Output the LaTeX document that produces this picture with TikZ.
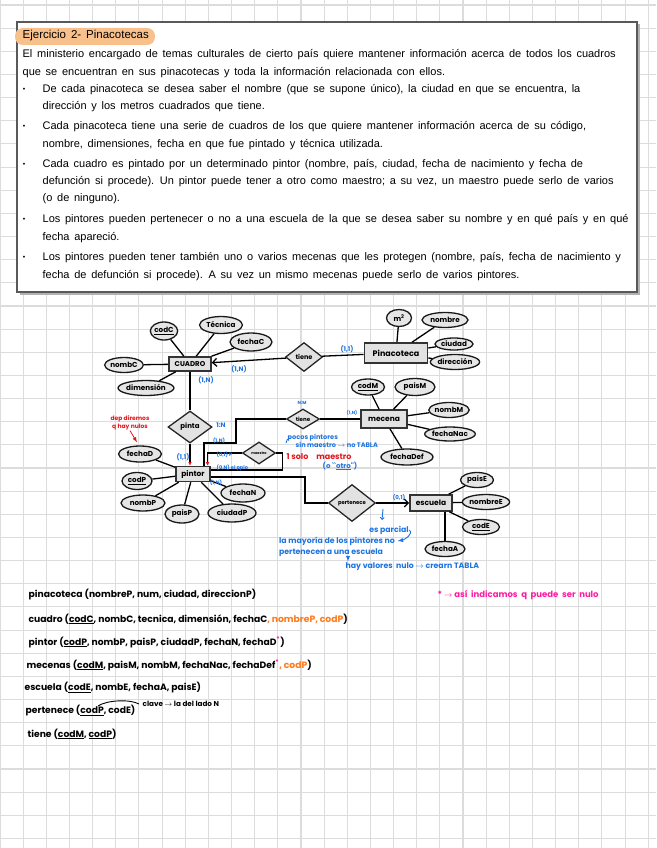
\documentclass[tikz,border=0pt]{standalone}
\usepackage{fontspec}
\setmainfont[WordSpace=1.55]{Liberation Sans}
\newfontfamily\handfont{Poppins}
\usetikzlibrary{shapes.geometric,arrows.meta}

\definecolor{gridgray}{HTML}{DCDCDC}
\definecolor{hlpeach}{HTML}{F8C08A}
\definecolor{shapefill}{HTML}{E2E2E2}
\definecolor{notesblue}{HTML}{1E74E0}
\definecolor{notesred}{HTML}{E8141C}
\definecolor{notesorange}{HTML}{FF7A1A}
\definecolor{notespink}{HTML}{FF1AA3}

\begin{document}
\begin{tikzpicture}[x=1pt, y=-1pt, >=latex, line width=1.3pt,
    gridline/.style={draw=gridgray, line width=1.1pt},
    ent/.style={draw=black!80, line width=1.6pt, fill=shapefill, inner sep=0pt, font=\handfont\bfseries\fontsize{7}{8}\selectfont},
    rel/.style={diamond, draw=black!85, line width=1.3pt, fill=shapefill, inner sep=0pt, font=\handfont\bfseries\fontsize{6.5}{7}\selectfont},
    attr/.style={ellipse, draw=black!90, line width=1.3pt, fill=shapefill!85, inner sep=0pt, font=\handfont\bfseries\fontsize{7.2}{8}\selectfont},
    card/.style={text=notesblue, inner sep=0pt, font=\handfont\bfseries\fontsize{6.5}{7}\selectfont},
    note/.style={inner sep=0pt, font=\handfont\bfseries\fontsize{7.8}{9}\selectfont},
    schema/.style={anchor=west, inner sep=0pt, font=\handfont\bfseries\fontsize{9.2}{10}\selectfont},
    body/.style={anchor=west, inner sep=0pt, font=\fontsize{11}{12}\selectfont}]

    \useasboundingbox (0,0) rectangle (656,848);
    \fill[white] (0,0) rectangle (656,848);

    % Squared paper
    \foreach \gx in {0,...,28} \draw[gridline] (\gx*23.15,0) -- (\gx*23.15,848);
    \foreach \gy in {0,...,36} \draw[gridline] (0,5+\gy*23.15) -- (656,5+\gy*23.15);

    % Statement box
    \fill[black!30] (19.5,24.5) rectangle (639.5,294.5);
    \draw[draw=black!65, line width=1.6pt, fill=white] (17,22) rectangle (637,292);
    \fill[hlpeach, rounded corners=8pt] (15,28) rectangle (155,45);
    \node[body, font=\fontsize{11.5}{12}\selectfont] (title) at (22,36) {Ejercicio 2- Pinacotecas};

    \foreach \ty/\tx/\txt [count=\i] in {
        55/22/{El ministerio encargado de temas culturales de cierto país quiere mantener información acerca de todos los cuadros},
        73/22/{que se encuentran en sus pinacotecas y toda la información relacionada con ellos.},
        90/42/{De cada pinacoteca se desea saber el nombre (que se supone único), la ciudad en que se encuentra, la},
        107/42/{dirección y los metros cuadrados que tiene.},
        127/42/{Cada pinacoteca tiene una serie de cuadros de los que quiere mantener información acerca de su código,},
        145/42/{nombre, dimensiones, fecha en que fue pintado y técnica utilizada.},
        165/42/{Cada cuadro es pintado por un determinado pintor (nombre, país, ciudad, fecha de nacimiento y fecha de},
        182/42/{defunción si procede). Un pintor puede tener a otro como maestro; a su vez, un maestro puede serlo de varios},
        199/42/{(o de ninguno).},
        220/42/{Los pintores pueden pertenecer o no a una escuela de la que se desea saber su nombre y en qué país y en qué},
        238/42/{fecha apareció.},
        258/42/{Los pintores pueden tener también uno o varios mecenas que les protegen (nombre, país, fecha de nacimiento y},
        276/42/{fecha de defunción si procede). A su vez un mismo mecenas puede serlo de varios pintores.}}
        \node[body] (line\i) at (\tx,\ty) {\txt};
    \foreach \by [count=\j] in {90,127,165,220,258}
        \node[inner sep=0pt, font=\fontsize{7}{8}\selectfont] (dot\j) at (24,\by) {\textbullet};

    % Entities
    \node[ent, minimum width=42pt, minimum height=14pt] (cuadro) at (190,364) {CUADRO};
    \node[ent, minimum width=63pt, minimum height=20pt, font=\handfont\bfseries\fontsize{8}{9}\selectfont] (pinac) at (396,353) {Pinacoteca};
    \node[ent, minimum width=46pt, minimum height=18pt, font=\handfont\bfseries\fontsize{7.5}{8}\selectfont] (mecena) at (384,419) {mecena};
    \node[ent, minimum width=34pt, minimum height=15pt, font=\handfont\bfseries\fontsize{7.5}{8}\selectfont] (pintor) at (193,474) {pintor};
    \node[ent, minimum width=42pt, minimum height=16pt, font=\handfont\bfseries\fontsize{7.5}{8}\selectfont] (escuela) at (431,503) {escuela};

    % Relations
    \node[rel, minimum width=37pt, minimum height=29pt] (tieneP) at (304,357) {tiene};
    \node[rel, minimum width=33pt, minimum height=20pt, font=\handfont\bfseries\fontsize{5.5}{6}\selectfont] (tieneM) at (303,419) {tiene};
    \node[rel, minimum width=44pt, minimum height=32pt, font=\handfont\bfseries\fontsize{7}{8}\selectfont] (pinta) at (190,427) {pinta};
    \node[rel, minimum width=33pt, minimum height=22pt, font=\handfont\bfseries\fontsize{3.5}{4}\selectfont] (maestro) at (259,453) {maestro};
    \node[rel, minimum width=47pt, minimum height=37pt, font=\handfont\bfseries\fontsize{5.3}{6}\selectfont] (pertenece) at (352,503) {pertenece};

    % Attributes
    \node[attr, minimum width=26pt, minimum height=18pt] (codC) at (164,331) {\underline{codC}};
    \node[attr, minimum width=43pt, minimum height=17pt] (tecnica) at (221,325) {Técnica};
    \node[attr, minimum width=42pt, minimum height=18pt] (fechaC) at (251,342) {fechaC};
    \node[attr, minimum width=36pt, minimum height=15pt] (nombC) at (124,365) {nombC};
    \node[attr, minimum width=52pt, minimum height=15pt] (dimension) at (146,388) {dimensión};
    \node[attr, minimum width=25pt, minimum height=17pt] (metros) at (399,318) {m\textsuperscript{2}};
    \node[attr, minimum width=46pt, minimum height=15pt] (nombre) at (445,320) {nombre};
    \node[attr, minimum width=38pt, minimum height=12pt] (ciudad) at (454,344) {ciudad};
    \node[attr, minimum width=37pt, minimum height=15pt] (direccion) at (455,362) {dirección};
    \node[attr, minimum width=33pt, minimum height=16pt] (codM) at (368,387) {\underline{codM}};
    \node[attr, minimum width=40pt, minimum height=17pt] (paisM) at (415,387) {paisM};
    \node[attr, minimum width=38pt, minimum height=15pt] (nombM) at (449,410) {nombM};
    \node[attr, minimum width=45pt, minimum height=14pt] (fechaNac) at (450,434) {fechaNac};
    \node[attr, minimum width=52pt, minimum height=16pt] (fechaDef) at (407,457) {fechaDef};
    \node[attr, minimum width=43pt, minimum height=16pt] (fechaD) at (140,454) {fechaD};
    \node[attr, minimum width=30pt, minimum height=17pt] (codP) at (137,481) {\underline{codP}};
    \node[attr, minimum width=44pt, minimum height=16pt] (nombP) at (143,503) {nombP};
    \node[attr, minimum width=34pt, minimum height=18pt] (paisP) at (182,514) {paisP};
    \node[attr, minimum width=48pt, minimum height=18pt] (ciudadP) at (232,513) {ciudadP};
    \node[attr, minimum width=44pt, minimum height=18pt] (fechaN) at (243,493) {fechaN};
    \node[attr, minimum width=33pt, minimum height=15pt] (paisE) at (477,480) {paisE};
    \node[attr, minimum width=45pt, minimum height=15pt] (nombreE) at (486,502) {nombreE};
    \node[attr, minimum width=37pt, minimum height=15pt] (codE) at (481,527) {\underline{codE}};
    \node[attr, minimum width=40pt, minimum height=15pt] (fechaA) at (445,549) {fechaA};

    \foreach \a in {codC,tecnica,fechaC,nombC,dimension} \draw (cuadro) -- (\a);
    \foreach \a in {metros,nombre,ciudad,direccion} \draw (pinac) -- (\a);
    \foreach \a in {codM,paisM,nombM,fechaNac,fechaDef} \draw (mecena) -- (\a);
    \foreach \a in {fechaD,codP,nombP,paisP,ciudadP,fechaN} \draw (pintor) -- (\a);
    \foreach \a in {paisE,nombreE,codE} \draw (escuela) -- (\a);
    \draw (escuela.south -| fechaA.north) -- (fechaA);

    % Relationship lines
    \coordinate (tm1) at (236,443);
    \coordinate (pe1) at (305,490);
    \draw[-{Straight Barb[length=4pt]}] (tieneP) -- (cuadro);
    \draw (tieneP) -- (pinac);
    \draw (cuadro) -- (pinta);
    \draw[-{Latex[color=notesred, length=3.5pt, width=3.5pt]}] (pinta.south) -- (pinta.south |- pintor.north);
    \draw (tieneM) -- (mecena);
    \draw (tieneM.west) -| (tm1) -| ([xshift=11pt]pintor.north);
    \draw[-{Latex[color=notesred, length=3.5pt, width=3.5pt]}] (maestro.west) -| ([xshift=14.5pt]pintor.north);
    \draw (maestro.east) -- ++(6,0) |- ([yshift=4pt]pintor.east);
    \draw ([yshift=-3pt]pintor.east) -| (pe1) |- (pertenece.west);
    \draw[-{Straight Barb[length=4pt]}] (pertenece) -- (escuela);

    % Cardinalities
    \node[card] (c1) at (347,349) {(1,1)};
    \node[card] (c2) at (239,369) {(1,N)};
    \node[card] (c3) at (206,380) {(1,N)};
    \node[card] (c4) at (221,425) {1:N};
    \node[card, font=\handfont\bfseries\fontsize{4.5}{5}\selectfont] (c5) at (302,403) {N:M};
    \node[card, font=\handfont\bfseries\fontsize{4.5}{5}\selectfont] (c6) at (352,413) {(1,N)};
    \node[card, font=\handfont\bfseries\fontsize{5}{5}\selectfont] (c7) at (219,441) {(1,N)};
    \node[card, font=\handfont\bfseries\fontsize{5}{5}\selectfont, anchor=west] (c8) at (216,455) {(0,1) P};
    \node[card, font=\handfont\bfseries\fontsize{5}{5}\selectfont, anchor=west] (c9) at (216,468) {(0,N) el ppio};
    \node[card] (c10) at (183,457) {(1,1)};
    \node[card, font=\handfont\bfseries\fontsize{5}{5}\selectfont] (c11) at (216,483) {(1,N)};
    \node[card, font=\handfont\bfseries\fontsize{5.5}{6}\selectfont] (c12) at (399,498) {(0,1)};

    % Notes
    \node[note, text=notesred, align=center, font=\handfont\bfseries\fontsize{6}{7.5}\selectfont] (depq) at (130,423) {dep diremos\\q hay nulos};
    \draw[notesred, line width=0.8pt, ->] (depq.south) -- ([xshift=-3pt,yshift=3pt]fechaD.north);
    \node[note, text=notesblue, anchor=west, align=left, font=\handfont\bfseries\fontsize{6.6}{7}\selectfont] (pocos) at (287,441) {pocos pintores\\\hspace*{8pt}sin maestro $\rightarrow$ no TABLA};
    \draw[notesblue, line width=0.9pt] ([xshift=-1pt,yshift=-2pt]pocos.west) arc (180:100:5pt);
    \node[note, text=notesred, anchor=west, font=\handfont\bfseries\fontsize{8}{9}\selectfont] (solo) at (286,457) {1 solo\quad maestro};
    \node[note, text=notesblue, font=\handfont\bfseries\fontsize{7}{8}\selectfont] (otro) at (340,466) {(o ``\underline{otro}'')};
    \draw[notesblue, line width=0.9pt, -{Straight Barb[length=2pt]}] (383,509) -- (382,520);
    \node[note, text=notesblue] (espar) at (389,530) {es parcial};
    \node[note, text=notesblue] (lamay) at (337,541) {la mayoría de los pintores no};
    \node[note, text=notesblue] (pertesc) at (331,553) {pertenecen a una escuela};
    \node[note, text=notesblue, anchor=west] (hayval) at (345,567) {hay valores\ \ nulo $\rightarrow$ crearn TABLA};
    \draw[notesblue, line width=0.9pt, ->] (espar.east) to[out=-40, in=10] ([xshift=2pt]lamay.east);
    \draw[notesblue, line width=0.9pt, ->] ([xshift=3pt]hayval.north west |- pertesc.south) -- ([xshift=3pt,yshift=1pt]hayval.north west);

    % Relational schema
    \node[schema] (s1) at (28,595) {pinacoteca (nombreP, num, ciudad, direccionP)};
    \node[schema] (s2) at (28,619) {cuadro (\underline{codC}, nombC, tecnica, dimensión, fechaC{\color{notesorange}, nombreP, codP})};
    \node[schema] (s3) at (28,642) {pintor (\underline{codP}, nombP, paisP, ciudadP, fechaN, fechaD{\color{notespink}\textsuperscript{*}})};
    \node[schema] (s4) at (26,665) {mecenas (\underline{codM}, paisM, nombM, fechaNac, fechaDef{\color{notespink}\textsuperscript{*}}{\color{notesorange}, codP})};
    \node[schema] (s5) at (24,688) {escuela (\underline{codE}, nombE, fechaA, paisE)};
    \node[schema] (s6) at (25,711) {pertenece (\underline{codP}, codE)};
    \node[schema] (s7) at (27,734) {tiene (\underline{codM}, \underline{codP})};
    \draw[line width=0.9pt] (98,706) .. controls (107,700) and (130,699) .. (139,704);
    \node[schema, font=\handfont\bfseries\fontsize{7.2}{8}\selectfont] (clave) at (142,704) {clave $\rightarrow$ la del lado N};
    \node[schema, text=notespink, font=\handfont\bfseries\fontsize{8.5}{9}\selectfont] (legend) at (437,595) {* $\rightarrow$ así\ \ indicamos\ \ q\ \ puede\ \ ser\ \ nulo};
\end{tikzpicture}
\end{document}
